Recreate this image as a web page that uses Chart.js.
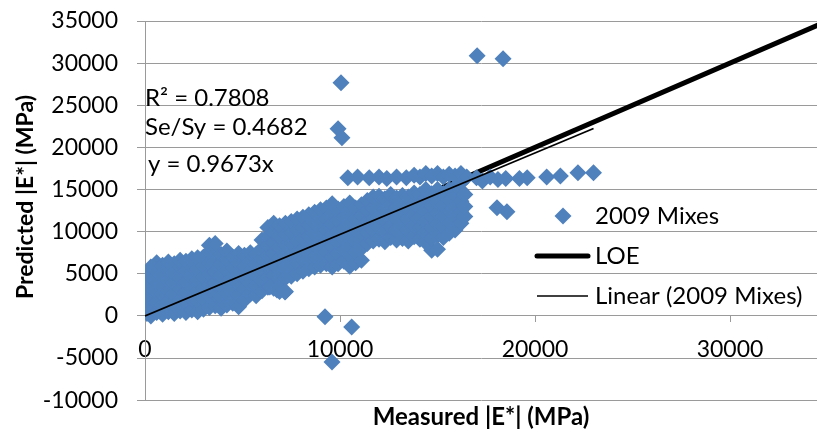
<!DOCTYPE html>
<html>
<head>
<meta charset="utf-8">
<script src="https://cdn.jsdelivr.net/npm/chart.js@4.4.1/dist/chart.umd.min.js"></script>
<style>
html,body{margin:0;padding:0;background:#ffffff;}
#wrap{width:817px;height:434px;}
</style>
</head>
<body>
<div id="wrap"><canvas id="c" width="817" height="434"></canvas></div>
<script>
// ---------- text ----------
const seriesName = '2009 Mixes';
const loeName = 'LOE';
const trendName = 'Linear (2009 Mixes)';
const xTitle = 'Measured |E*| (MPa)';
const yTitle = 'Predicted |E*| (MPa)';
const statLines = ['R² = 0.7808', 'Se/Sy = 0.4682'];
const trendLabel = 'y = 0.9673x';
const trendSlope = 0.9673;

// ---------- ticks ----------
const xTicks = [0, 10000, 20000, 30000];
const yTicks = [-10000, -5000, 0, 5000, 10000, 15000, 20000, 25000, 30000, 35000];
const loeRange = [0, 35000];

// ---------- data ----------
const measured = [
  100,100,100,100,100,
  300,300,300,300,300,300,
  600,600,600,600,600,600,
  900,900,900,900,900,900,
  1200,1200,1200,1200,1200,1200,
  1500,1500,1500,1500,1500,1500,
  1800,1800,1800,1800,1800,1800,
  2100,2100,2100,2100,2100,2100,
  2400,2400,2400,2400,2400,2400,
  2700,2700,2700,2700,2700,2700,
  3000,3000,3000,3000,3000,3000,
  3300,3300,3300,3300,3300,3300,3300,
  3600,3600,3600,3600,3600,3600,3600,
  3900,3900,3900,3900,3900,3900,
  4200,4200,4200,4200,4200,4200,
  4500,4500,4500,4500,4500,
  4800,4800,4800,4800,4800,4800,
  5100,5100,5100,5100,5100,
  5400,5400,5400,5400,5400,
  5700,5700,5700,5700,5700,
  6000,6000,6000,6000,6000,6000,
  6300,6300,6300,6300,6300,6300,6300,
  6600,6600,6600,6600,6600,6600,6600,
  6900,6900,6900,6900,6900,6900,6900,
  7200,7200,7200,7200,7200,7200,7200,
  7500,7500,7500,7500,7500,7500,
  7800,7800,7800,7800,7800,7800,
  8100,8100,8100,8100,8100,8100,
  8400,8400,8400,8400,8400,8400,
  8700,8700,8700,8700,8700,8700,
  9000,9000,9000,9000,9000,9000,
  9300,9300,9300,9300,9300,9300,
  9600,9600,9600,9600,9600,9600,9600,
  9900,9900,9900,9900,9900,9900,
  10200,10200,10200,10200,10200,10200,
  10500,10500,10500,10500,10500,10500,10500,
  10800,10800,10800,10800,10800,10800,
  11100,11100,11100,11100,11100,11100,
  11400,11400,11400,11400,11400,
  11700,11700,11700,11700,11700,
  12000,12000,12000,12000,12000,
  12300,12300,12300,12300,12300,
  12600,12600,12600,12600,12600,
  12900,12900,12900,12900,12900,
  13200,13200,13200,13200,13200,
  13500,13500,13500,13500,13500,
  13800,13800,13800,13800,13800,
  14100,14100,14100,14100,14100,
  14400,14400,14400,14400,14400,14400,
  14700,14700,14700,14700,14700,14700,
  15000,15000,15000,15000,15000,15000,
  15300,15300,15300,15300,15300,
  15600,15600,15600,15600,15600,
  15900,15900,15900,15900,15900,
  16200,16200,16200,16200,16200,
  16400,16400,16400,
  10400,10900,11500,12000,12400,12900,13400,13800,14100,14400,
  14700,15000,15300,15600,15900,16200,16500,17000,17300,17700,
  18100,18500,19200,19600,20600,21300,22200,23000,
  18050,18560,
  17030,18360,10050,9900,10100,
  9230,10600,9590,
  6400,6770,7180
];
const predicted = [
  300,1500,2800,4000,5200,
  0,1000,2200,3400,4600,5800,
  400,1600,2800,4000,5300,6300,
  200,1200,2500,3600,4800,6000,
  500,1800,3000,4200,5500,6400,
  300,1400,2600,3900,5100,6200,
  600,1900,3200,4500,5800,6600,
  400,1500,2800,4000,5300,6500,
  700,2000,3300,4600,5900,6800,
  500,1700,3000,4300,5600,6900,
  800,2100,3400,4700,6000,7000,
  1000,2400,3700,5000,6300,7600,8400,
  1200,2600,3900,5200,6500,7800,8600,
  900,2300,3600,4900,6200,7300,
  1300,2700,4000,5400,6700,7700,
  1500,3000,4400,5700,7000,
  1100,2500,3800,5000,6300,7400,
  1900,3200,4600,5900,7200,
  2600,3900,5200,6500,7500,
  2400,3600,4800,6100,7300,
  3000,4300,5600,6900,8000,9000,
  3400,4600,5900,7200,8400,9500,10500,
  3300,4800,6100,7400,8700,9900,11000,
  2900,4100,5500,6800,8100,9400,10700,
  2900,4500,5800,7100,8400,9700,11000,
  4700,6000,7300,8600,9900,11200,
  5000,6300,7600,8900,10200,11500,
  5300,6600,7900,9200,10500,11700,
  5600,6900,8200,9500,10800,12000,
  5800,7100,8400,9700,11000,12300,
  6000,7300,8600,9900,11200,12600,
  6200,7600,8900,10200,11500,12800,
  5800,7000,8300,9600,10900,12200,13300,
  6200,7500,8800,10100,11400,12700,
  6500,7800,9100,10400,11700,13000,
  5900,7100,8400,9700,11000,12300,13400,
  6300,7600,8900,10200,11500,12800,
  6600,8000,9300,10600,11900,13200,
  8600,9900,11200,12500,13700,
  8900,10200,11500,12800,14100,
  9100,10400,11700,13000,14200,
  8800,10000,11300,12600,13900,
  9300,10600,11900,13200,14400,
  9000,10300,11600,12900,14000,
  9200,10500,11800,13100,14300,
  8900,10200,11500,12800,14100,
  9400,10700,12000,13300,14600,
  9100,10400,11700,13000,14400,
  8700,10000,11300,12600,14000,15000,
  7800,9200,10500,11800,13100,14500,
  7900,9600,11000,12300,13600,15000,
  9300,10600,11900,13200,14500,
  9800,11100,12400,13700,15000,
  10200,11500,12800,14100,15300,
  11000,12300,13600,14900,15800,
  11800,13000,14400,
  16400,16500,16400,16500,16300,16500,16400,16700,16500,16900,
  16600,16900,16500,16800,16600,16900,16500,16400,16000,16500,
  16200,16300,16300,16400,16500,16600,17000,17000,
  12830,12350,
  30880,30520,27670,22200,21140,
  -100,-1300,-5460,
  3440,3090,2850
];

// ---------- drawing ----------
const FONT = 'Lato';
const GRID = '#9a9a9a';
const BLUE = '#4F81BD';
const xMax = 34460;
const maxMeasured = Math.max(...measured);

const points = measured.map((x, i) => ({ x: x, y: predicted[i] }));
const loePoints = loeRange.map(v => ({ x: v, y: v }));
const trendPoints = [0, maxMeasured].map(v => ({ x: v, y: trendSlope * v }));

const zeroHPad = s => { s.paddingLeft = 0; s.paddingRight = 0; };

const overlay = {
  id: 'overlay',
  afterDraw(chart) {
    const ctx = chart.ctx;
    const ca = chart.chartArea;
    ctx.save();
    ctx.fillStyle = '#000';
    ctx.textBaseline = 'middle';
    ctx.textAlign = 'left';
    ctx.font = '24px ' + FONT;
    // statistics text box
    ctx.fillText(statLines[0], ca.left, ca.top + 77);
    ctx.fillText(statLines[1], ca.left, ca.top + 106);
    ctx.fillText(trendLabel, ca.left + 3, ca.top + 143);

    // legend
    const lx = 595;
    const rows = [216, 256, 296];
    const dx = 563, dy = rows[0], r = 8.5;
    ctx.fillStyle = BLUE;
    ctx.beginPath();
    ctx.moveTo(dx - r, dy); ctx.lineTo(dx, dy - r); ctx.lineTo(dx + r, dy); ctx.lineTo(dx, dy + r);
    ctx.closePath(); ctx.fill();
    ctx.strokeStyle = '#000';
    ctx.lineCap = 'round';
    ctx.lineWidth = 5;
    ctx.beginPath(); ctx.moveTo(537, rows[1]); ctx.lineTo(588, rows[1]); ctx.stroke();
    ctx.lineCap = 'butt';
    ctx.lineWidth = 1.5;
    ctx.beginPath(); ctx.moveTo(537, rows[2]); ctx.lineTo(588, rows[2]); ctx.stroke();
    ctx.fillStyle = '#000';
    ctx.fillText(seriesName, lx, rows[0]);
    ctx.fillText(loeName, lx, rows[1]);
    ctx.fillText(trendName, lx, rows[2]);

    // y axis title
    ctx.save();
    ctx.translate(26, 197);
    ctx.rotate(-Math.PI / 2);
    ctx.textAlign = 'center';
    ctx.font = 'bold 23px ' + FONT;
    ctx.fillText(yTitle, 0, 0);
    ctx.restore();
    ctx.restore();
  }
};

new Chart(document.getElementById('c'), {
  type: 'scatter',
  data: {
    datasets: [
      { label: loeName, type: 'line', data: loePoints, showLine: true, borderColor: '#000', borderWidth: 5,
        pointRadius: 0, fill: false, order: 3, xAxisID: 'x', yAxisID: 'y' },
      { label: seriesName, data: points, pointStyle: 'rectRot', pointRadius: 8.5, pointHoverRadius: 8.5,
        backgroundColor: BLUE, borderColor: BLUE, borderWidth: 0, order: 2, xAxisID: 'x', yAxisID: 'y' },
      { label: trendName, type: 'line', data: trendPoints, showLine: true, borderColor: '#000', borderWidth: 1.8,
        pointRadius: 0, fill: false, order: 1, xAxisID: 'x', yAxisID: 'y' }
    ]
  },
  options: {
    responsive: false,
    animation: false,
    devicePixelRatio: 1,
    layout: { autoPadding: false, padding: { top: 21, right: 0, bottom: 0, left: 0 } },
    plugins: { legend: { display: false }, tooltip: { enabled: false } },
    scales: {
      x: {
        type: 'linear', position: { y: 0 }, min: 0, max: xMax,
        afterBuildTicks: s => { s.ticks = xTicks.map(v => ({ value: v })); },
        afterFit: zeroHPad,
        ticks: { font: { family: FONT, size: 23 }, color: '#000', padding: 14, maxRotation: 0, autoSkip: false,
                 callback: v => String(v) },
        grid: { drawOnChartArea: false, drawTicks: true, tickLength: 6, color: GRID },
        border: { display: true, color: GRID, width: 1 }
      },
      x2: {
        type: 'linear', position: 'bottom', min: 0, max: xMax, display: true,
        afterFit: zeroHPad,
        grid: { display: false, drawTicks: false }, border: { display: false }, ticks: { display: false },
        title: { display: true, text: xTitle, color: '#000', font: { family: FONT, size: 24, weight: 'bold' },
                 padding: { top: 3, bottom: 2 } }
      },
      y: {
        type: 'linear', position: 'left', min: -10000, max: 35000,
        afterBuildTicks: s => { s.ticks = yTicks.map(v => ({ value: v })); },
        afterFit: s => { s.width = 145; s.paddingTop = 0; s.paddingBottom = 0; },
        ticks: { font: { family: FONT, size: 23 }, color: '#000', padding: 19, callback: v => String(v) },
        grid: { color: GRID, tickLength: 8, drawTicks: true },
        border: { display: true, color: GRID, width: 1 },
        title: { display: false, text: yTitle }
      }
    }
  },
  plugins: [overlay]
});
</script>
</body>
</html>
